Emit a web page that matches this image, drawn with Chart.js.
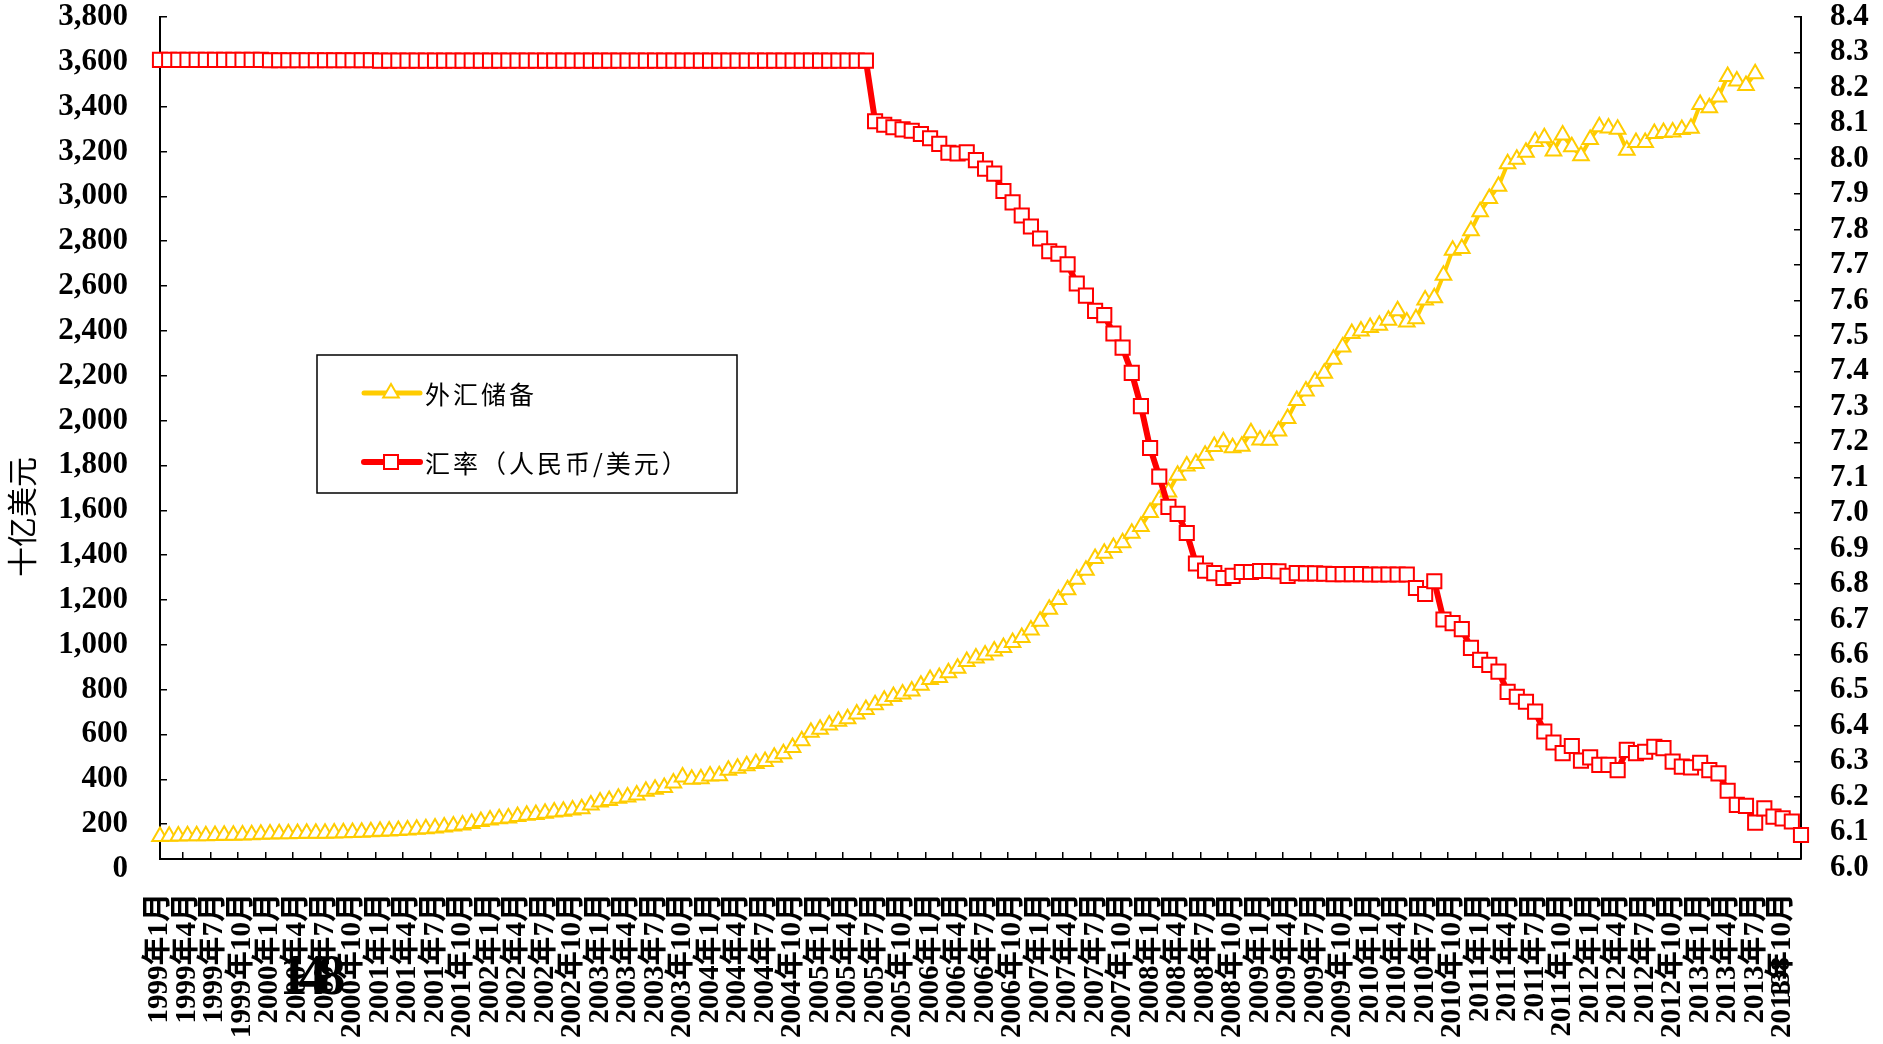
<!DOCTYPE html>
<html>
<head>
<meta charset="utf-8">
<script src="https://cdn.jsdelivr.net/npm/chart.js@4.4.0/dist/chart.umd.min.js"></script>
<style>
  body { margin: 0; background: #fff; }
  canvas { display: block; }
</style>
</head>
<body>
<canvas id="chart" width="1883" height="1044"></canvas>
<script>
// monthly categories, 1999年1月 .. 2013年12月
const startYear = 1999;
const monthCount = 180;
const labels = [];
for (let i = 0; i < monthCount; i++) {
  labels.push((startYear + Math.floor(i / 12)) + '年' + (i % 12 + 1) + '月');
}

// 外汇储备, 十亿美元 (1999.1 - 2013.7)
const reserves = [
  145, 146, 147, 148, 148, 148, 149, 150, 151, 152, 153, 155,
  156, 157, 157, 158, 159, 160, 160, 161, 162, 163, 164, 166,
  168, 170, 172, 174, 177, 180, 183, 187, 192, 196, 203, 212,
  219, 224, 228, 234, 240, 243, 249, 254, 258, 263, 269, 286,
  299, 305, 316, 321, 330, 347, 356, 364, 384, 410, 400, 403,
  415, 416, 440, 449, 461, 470, 480, 498, 514, 542, 572, 610,
  623, 642, 659, 670, 691, 711, 733, 753, 769, 781, 794, 819,
  845, 854, 875, 895, 925, 941, 954, 972, 988, 1010, 1033, 1066,
  1105, 1158, 1202, 1246, 1292, 1333, 1385, 1408, 1434, 1455, 1497, 1528,
  1590, 1647, 1682, 1756, 1797, 1809, 1845, 1884, 1906, 1879, 1885, 1946,
  1913, 1912, 1954, 2009, 2089, 2132, 2175, 2211, 2273, 2328, 2388, 2399,
  2415, 2425, 2447, 2490, 2440, 2454, 2538, 2548, 2648, 2760, 2768, 2847,
  2931, 2990, 3045, 3146, 3166, 3197, 3245, 3262, 3202, 3274, 3221, 3181,
  3254, 3310, 3305, 3299, 3206, 3240, 3240, 3280, 3285, 3287, 3298, 3304,
  3410, 3395, 3443, 3535, 3515, 3495, 3547
];

// 汇率 (人民币/美元), 1999.1 - 2013.12
const rate = [
  8.279, 8.279, 8.279, 8.279, 8.279, 8.279, 8.279, 8.279, 8.279, 8.279, 8.279, 8.279,
  8.278, 8.278, 8.278, 8.278, 8.278, 8.278, 8.278, 8.278, 8.278, 8.278, 8.278, 8.278,
  8.277, 8.277, 8.277, 8.277, 8.277, 8.277, 8.277, 8.277, 8.277, 8.277, 8.277, 8.277,
  8.277, 8.277, 8.277, 8.277, 8.277, 8.277, 8.277, 8.277, 8.277, 8.277, 8.277, 8.277,
  8.277, 8.277, 8.277, 8.277, 8.277, 8.277, 8.277, 8.277, 8.277, 8.277, 8.277, 8.277,
  8.277, 8.277, 8.277, 8.277, 8.277, 8.277, 8.277, 8.277, 8.277, 8.277, 8.277, 8.277,
  8.277, 8.277, 8.277, 8.277, 8.277, 8.277, 8.106, 8.096, 8.089, 8.083, 8.079, 8.070,
  8.058, 8.042, 8.017, 8.015, 8.018, 7.996, 7.972, 7.958, 7.909, 7.877, 7.840, 7.809,
  7.775, 7.739, 7.732, 7.702, 7.648, 7.614, 7.571, 7.559, 7.507, 7.467, 7.396, 7.302,
  7.184, 7.103, 7.018, 6.998, 6.944, 6.858, 6.838, 6.831, 6.817, 6.823, 6.834, 6.834,
  6.837, 6.837, 6.836, 6.823, 6.831, 6.830, 6.830, 6.829, 6.828, 6.828, 6.828, 6.828,
  6.827, 6.827, 6.827, 6.827, 6.827, 6.789, 6.772, 6.808, 6.700, 6.690, 6.673, 6.620,
  6.586, 6.572, 6.553, 6.496, 6.482, 6.468, 6.440, 6.384, 6.353, 6.323, 6.343, 6.302,
  6.311, 6.290, 6.290, 6.275, 6.332, 6.323, 6.327, 6.341, 6.337, 6.299, 6.285, 6.283,
  6.296, 6.275, 6.266, 6.217, 6.177, 6.174, 6.127, 6.167, 6.144, 6.139, 6.130, 6.092
];

const leftTicks = [0, 200, 400, 600, 800, 1000, 1200, 1400, 1600, 1800, 2000,
  2200, 2400, 2600, 2800, 3000, 3200, 3400, 3600, 3800];
const rightTicks = [6.0, 6.1, 6.2, 6.3, 6.4, 6.5, 6.6, 6.7, 6.8, 6.9, 7.0, 7.1,
  7.2, 7.3, 7.4, 7.5, 7.6, 7.7, 7.8, 7.9, 8.0, 8.1, 8.2, 8.3, 8.4];

const reservesName = '外汇储备';
const rateName = '汇率（人民币/美元）';
const yTitle = '十亿美元';
const strayTexts = ['148', '138'];

const YELLOW = '#FFCC00';
const RED = '#FF0000';
const numFont = { family: '"Liberation Serif", "Noto Sans CJK SC", serif', weight: 'bold', size: 31, lineHeight: 1 };

// axis title, legend box and stray labels
const overlay = {
  id: 'overlay',
  afterDraw(chart) {
    const ctx = chart.ctx;
    ctx.save();
    ctx.fillStyle = '#000';
    ctx.textBaseline = 'middle';

    ctx.save();
    ctx.translate(22, 517);
    ctx.rotate(-Math.PI / 2);
    ctx.font = '30px "Noto Sans CJK SC"';
    ctx.textAlign = 'center';
    ctx.fillText(yTitle, 0, 0);
    ctx.restore();

    // legend
    ctx.lineWidth = 1.5;
    ctx.strokeStyle = '#000';
    ctx.strokeRect(317, 355, 420, 138);
    const items = [
      { y: 393, color: YELLOW, w: 5, style: 'triangle', text: reservesName },
      { y: 462, color: RED, w: 6, style: 'rect', text: rateName }
    ];
    items.forEach(it => {
      ctx.beginPath();
      ctx.lineCap = 'round';
      ctx.strokeStyle = it.color;
      ctx.lineWidth = it.w;
      ctx.moveTo(364, it.y);
      ctx.lineTo(420, it.y);
      ctx.stroke();
      ctx.beginPath();
      if (it.style === 'triangle') {
        ctx.moveTo(391, it.y - 9);
        ctx.lineTo(398.8, it.y + 4.5);
        ctx.lineTo(383.2, it.y + 4.5);
        ctx.closePath();
      } else {
        ctx.rect(384, it.y - 7, 14, 14);
      }
      ctx.fillStyle = '#fff';
      ctx.fill();
      ctx.lineWidth = 2;
      ctx.stroke();
      ctx.fillStyle = '#000';
      ctx.font = '25px "Noto Sans CJK SC"';
      ctx.letterSpacing = '3px';
      ctx.textAlign = 'left';
      ctx.fillText(it.text, 425, it.y + 1);
      ctx.letterSpacing = '0px';
    });

    // stray labels left over in the original image
    ctx.font = 'bold 56px "Liberation Serif"';
    ctx.letterSpacing = '-9px';
    ctx.textAlign = 'center';
    ctx.fillText(strayTexts[0], 308, 980);
    ctx.letterSpacing = '0px';
    ctx.save();
    ctx.translate(1782, 978);
    ctx.rotate(-Math.PI / 2);
    ctx.font = 'bold 28px "Liberation Serif"';
    ctx.fillText(strayTexts[1], 0, 0);
    ctx.restore();

    ctx.restore();
  }
};

new Chart(document.getElementById('chart'), {
  type: 'line',
  data: {
    labels,
    datasets: [
      {
        label: rateName,
        data: rate,
        yAxisID: 'y2',
        borderColor: RED,
        borderWidth: 6,
        pointStyle: 'rect',
        pointRadius: 10,
        pointBorderWidth: 2,
        pointBorderColor: RED,
        pointBackgroundColor: '#fff',
        clip: false,
        tension: 0
      },
      {
        label: reservesName,
        data: reserves,
        yAxisID: 'y',
        borderColor: YELLOW,
        borderWidth: 4,
        pointStyle: 'triangle',
        pointRadius: 9,
        pointBorderWidth: 2,
        pointBorderColor: YELLOW,
        pointBackgroundColor: '#fff',
        clip: false,
        tension: 0
      }
    ]
  },
  options: {
    responsive: false,
    animation: false,
    layout: { padding: { top: 17, left: 0, right: 0, bottom: 0 } },
    plugins: { legend: { display: false }, tooltip: { enabled: false } },
    scales: {
      x: {
        offset: false,
        border: { display: true, color: '#000', width: 2 },
        grid: {
          drawOnChartArea: false,
          offset: true,
          tickLength: -7,
          lineWidth: 1.5,
          color: c => (c.index > 0 && c.index % 3 === 0) ? '#000' : 'rgba(0,0,0,0)'
        },
        ticks: {
          autoSkip: false,
          minRotation: 90,
          maxRotation: 90,
          padding: 41,
          color: '#000',
          font: { family: '"Liberation Serif", "Noto Sans CJK SC", serif', weight: 'bold', size: 29, lineHeight: 1 },
          callback: (v, i) => i % 3 === 0 ? labels[i] : ''
        },
        afterFit: s => { s.height = 185; s.paddingLeft = 0; s.paddingRight = 0; }
      },
      y: {
        position: 'left',
        min: 44.6,
        max: 3800,
        border: { display: true, color: '#000', width: 2 },
        grid: {
          drawOnChartArea: false,
          tickLength: -7,
          lineWidth: 1.5,
          color: c => c.tick && c.tick.value === 0 ? 'rgba(0,0,0,0)' : '#000'
        },
        ticks: {
          autoSkip: false,
          padding: 39,
          color: '#000',
          font: numFont,
          callback: v => v.toLocaleString('en-US')
        },
        afterBuildTicks: s => { s.ticks = leftTicks.map(v => ({ value: v })); },
        afterFit: s => { s.width = 160; s.paddingTop = 0; s.paddingBottom = 0; }
      },
      y2: {
        position: 'right',
        min: 6.0243,
        max: 8.4,
        border: { display: true, color: '#000', width: 2 },
        grid: {
          drawOnChartArea: false,
          tickLength: -7,
          lineWidth: 1.5,
          color: c => c.tick && c.tick.value === 6.0 ? 'rgba(0,0,0,0)' : '#000'
        },
        ticks: {
          autoSkip: false,
          padding: 36,
          color: '#000',
          font: numFont,
          callback: v => v.toFixed(1)
        },
        afterBuildTicks: s => { s.ticks = rightTicks.map(v => ({ value: v })); },
        afterFit: s => { s.width = 82; s.paddingTop = 0; s.paddingBottom = 0; }
      }
    }
  },
  plugins: [overlay]
});
</script>
</body>
</html>
